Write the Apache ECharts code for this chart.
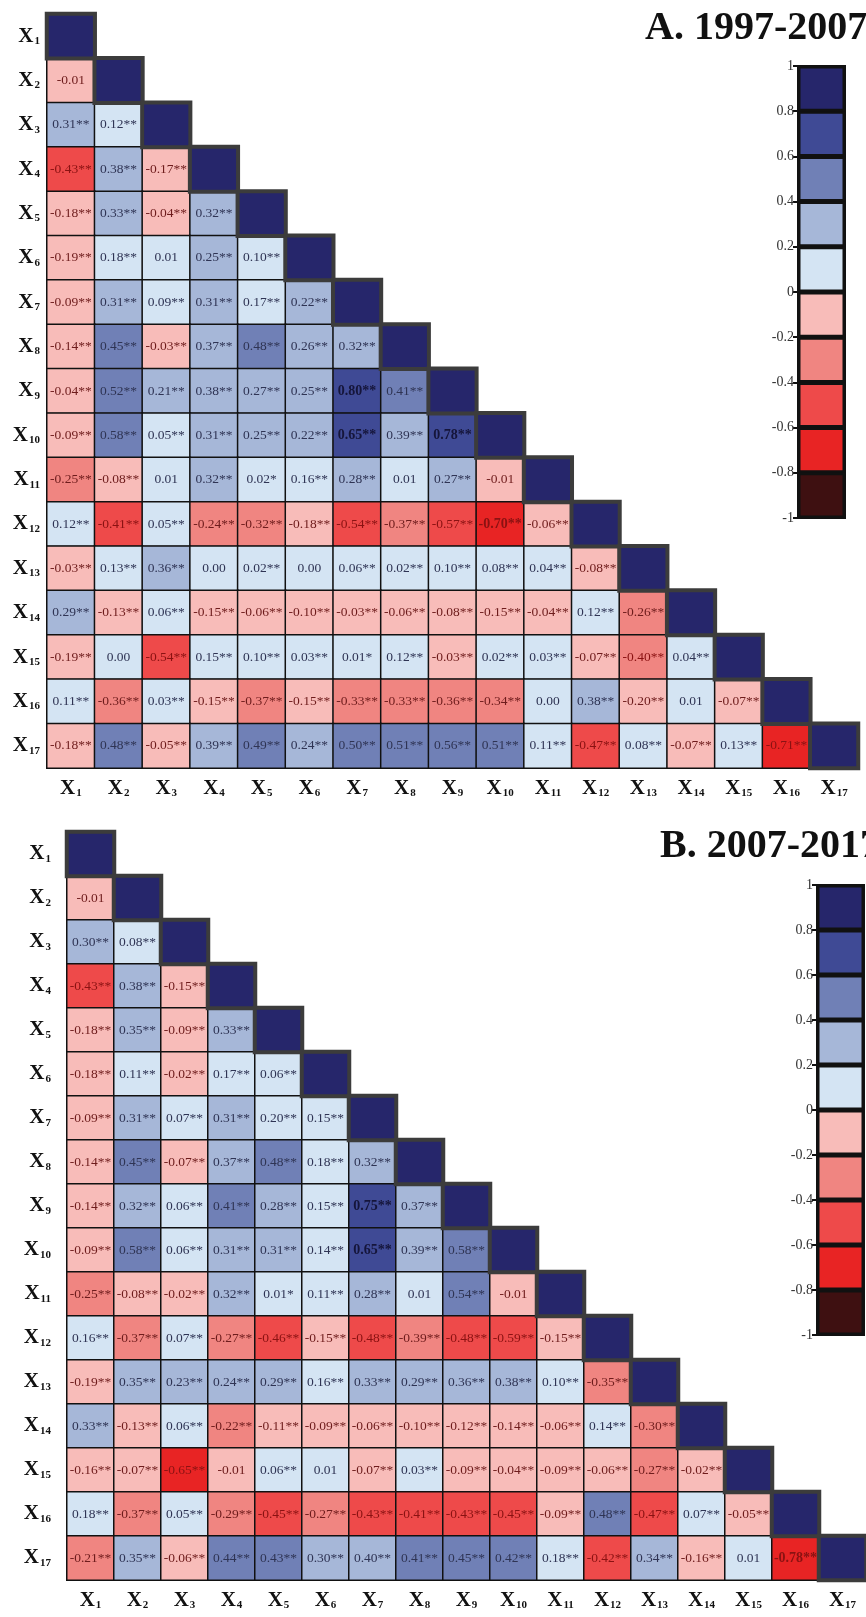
<!DOCTYPE html>
<html>
<head>
<meta charset="utf-8">
<script src="https://cdn.jsdelivr.net/npm/echarts@6/dist/echarts.min.js"></script>
<style>
    html, body {margin: 0; padding: 0; background: #fff;}
    #chart {width: 866px; height: 1617px;}
</style>
</head>
<body>
<div id="chart"></div>
<script type="text/javascript">
    var varNames = ['X1','X2','X3','X4','X5','X6','X7','X8','X9','X10','X11','X12','X13','X14','X15','X16','X17'];

    // lower triangle, row i = correlations of X(i+1) with X1..X(i), diagonal left out
    var rowsA = [
        [],
        ['-0.01'],
        ['0.31**','0.12**'],
        ['-0.43**','0.38**','-0.17**'],
        ['-0.18**','0.33**','-0.04**','0.32**'],
        ['-0.19**','0.18**','0.01','0.25**','0.10**'],
        ['-0.09**','0.31**','0.09**','0.31**','0.17**','0.22**'],
        ['-0.14**','0.45**','-0.03**','0.37**','0.48**','0.26**','0.32**'],
        ['-0.04**','0.52**','0.21**','0.38**','0.27**','0.25**','0.80**','0.41**'],
        ['-0.09**','0.58**','0.05**','0.31**','0.25**','0.22**','0.65**','0.39**','0.78**'],
        ['-0.25**','-0.08**','0.01','0.32**','0.02*','0.16**','0.28**','0.01','0.27**','-0.01'],
        ['0.12**','-0.41**','0.05**','-0.24**','-0.32**','-0.18**','-0.54**','-0.37**','-0.57**','-0.70**','-0.06**'],
        ['-0.03**','0.13**','0.36**','0.00','0.02**','0.00','0.06**','0.02**','0.10**','0.08**','0.04**','-0.08**'],
        ['0.29**','-0.13**','0.06**','-0.15**','-0.06**','-0.10**','-0.03**','-0.06**','-0.08**','-0.15**','-0.04**','0.12**','-0.26**'],
        ['-0.19**','0.00','-0.54**','0.15**','0.10**','0.03**','0.01*','0.12**','-0.03**','0.02**','0.03**','-0.07**','-0.40**','0.04**'],
        ['0.11**','-0.36**','0.03**','-0.15**','-0.37**','-0.15**','-0.33**','-0.33**','-0.36**','-0.34**','0.00','0.38**','-0.20**','0.01','-0.07**'],
        ['-0.18**','0.48**','-0.05**','0.39**','0.49**','0.24**','0.50**','0.51**','0.56**','0.51**','0.11**','-0.47**','0.08**','-0.07**','0.13**','-0.71**']
    ];
    var rowsB = [
        [],
        ['-0.01'],
        ['0.30**','0.08**'],
        ['-0.43**','0.38**','-0.15**'],
        ['-0.18**','0.35**','-0.09**','0.33**'],
        ['-0.18**','0.11**','-0.02**','0.17**','0.06**'],
        ['-0.09**','0.31**','0.07**','0.31**','0.20**','0.15**'],
        ['-0.14**','0.45**','-0.07**','0.37**','0.48**','0.18**','0.32**'],
        ['-0.14**','0.32**','0.06**','0.41**','0.28**','0.15**','0.75**','0.37**'],
        ['-0.09**','0.58**','0.06**','0.31**','0.31**','0.14**','0.65**','0.39**','0.58**'],
        ['-0.25**','-0.08**','-0.02**','0.32**','0.01*','0.11**','0.28**','0.01','0.54**','-0.01'],
        ['0.16**','-0.37**','0.07**','-0.27**','-0.46**','-0.15**','-0.48**','-0.39**','-0.48**','-0.59**','-0.15**'],
        ['-0.19**','0.35**','0.23**','0.24**','0.29**','0.16**','0.33**','0.29**','0.36**','0.38**','0.10**','-0.35**'],
        ['0.33**','-0.13**','0.06**','-0.22**','-0.11**','-0.09**','-0.06**','-0.10**','-0.12**','-0.14**','-0.06**','0.14**','-0.30**'],
        ['-0.16**','-0.07**','-0.65**','-0.01','0.06**','0.01','-0.07**','0.03**','-0.09**','-0.04**','-0.09**','-0.06**','-0.27**','-0.02**'],
        ['0.18**','-0.37**','0.05**','-0.29**','-0.45**','-0.27**','-0.43**','-0.41**','-0.43**','-0.45**','-0.09**','0.48**','-0.47**','0.07**','-0.05**'],
        ['-0.21**','0.35**','-0.06**','0.44**','0.43**','0.30**','0.40**','0.41**','0.45**','0.42**','0.18**','-0.42**','0.34**','-0.16**','0.01','-0.78**']
    ];
    // [row, col] of cells printed in bold
    var boldA = [[8,6],[9,6],[9,8],[11,9]];
    var boldB = [[8,6],[9,6],[16,15]];

    var legendTicks = [1, 0.8, 0.6, 0.4, 0.2, 0, -0.2, -0.4, -0.6, -0.8, -1];
    var binColors = ['#26266b','#3f4a95','#7080b6','#a6b7d8','#d4e4f3','#f8bcb9','#f08581','#ee4a4a','#e82424','#3e1011'];
    var titles = ['A. 1997-2007', 'B. 2007-2017'];

    var serif = '"Liberation Serif", "DejaVu Serif", serif';

    var panels = [
        {rows: rowsA, bold: boldA, grid: {left: 47, top: 14, width: 811, height: 754},
            leg: {left: 798, top: 66, width: 47, height: 452}, title: {left: 640, top: 4}, yMargin: 7},
        {rows: rowsB, bold: boldB, grid: {left: 67, top: 832, width: 801, height: 748},
            leg: {left: 817, top: 885, width: 47, height: 450}, title: {left: 655, top: 822}, yMargin: 16}
    ];

    // visual pieces from the legend ticks
    var pieces = [];
    for (var i = 0; i < binColors.length; i++) {
        var hi = legendTicks[i], lo = legendTicks[i + 1];
        if (lo > 0) pieces.push({gt: lo, lte: hi, color: binColors[i]});
        else if (lo === 0) pieces.push({gte: lo, lte: hi, color: binColors[i]});
        else pieces.push({gte: lo, lt: hi, color: binColors[i]});
    }

    function varLabel(v) {
        return '{x|X}{s|' + v.slice(1) + '}';
    }
    var varRich = {
        x: {fontFamily: serif, fontWeight: 'bold', fontSize: 21, color: '#111', lineHeight: 21, verticalAlign: 'top'},
        s: {fontFamily: serif, fontWeight: 'bold', fontSize: 11, color: '#111', lineHeight: 11, verticalAlign: 'bottom', padding: [16, 0, 0, 1]}
    };

    var grids = [], xAxes = [], yAxes = [], series = [], titleList = [], heatIdx = [];

    panels.forEach(function (p, k) {
        var leg = {left: p.leg.left, top: p.leg.top, width: p.leg.width, height: p.leg.height,
            show: true, backgroundColor: '#111', borderColor: '#111', borderWidth: 2};
        grids.push(p.grid, leg);
        xAxes.push({
            type: 'category', gridIndex: 2 * k, data: varNames, position: 'bottom',
            axisLine: {show: false}, axisTick: {show: false}, splitLine: {show: false},
            axisLabel: {formatter: varLabel, rich: varRich, margin: 10, interval: 0}
        });
        yAxes.push({
            type: 'category', gridIndex: 2 * k, data: varNames, inverse: true,
            axisLine: {show: false}, axisTick: {show: false}, splitLine: {show: false},
            axisLabel: {formatter: varLabel, rich: varRich, margin: p.yMargin, interval: 0}
        });
        xAxes.push({type: 'category', gridIndex: 2 * k + 1, data: ['c'], show: false});
        yAxes.push({
            type: 'value', gridIndex: 2 * k + 1, min: -1, max: 1, interval: 0.2,
            axisLine: {show: false}, splitLine: {show: false},
            axisTick: {show: true, length: 5, lineStyle: {color: '#111', width: 2}},
            axisLabel: {
                fontFamily: serif, fontSize: 14, color: '#333', margin: 4,
                formatter: function (v) { return String(Math.round(v * 10) / 10); }
            }
        });

        var cells = [];
        p.rows.forEach(function (row, r) {
            row.forEach(function (txt, c) {
                var v = parseFloat(txt);
                var isBold = p.bold.some(function (b) { return b[0] === r && b[1] === c; });
                cells.push({
                    value: [c, r, v], txt: txt,
                    label: {
                        fontWeight: isBold ? 'bold' : 'normal',
                        fontSize: isBold ? 14 : 13.5,
                        color: v < 0 ? (v <= -0.4 ? '#8a1212' : '#6e1c1c') : (isBold ? '#15153a' : '#2f3454')
                    }
                });
            });
        });
        heatIdx.push(series.length);
        series.push({
            type: 'heatmap', xAxisIndex: 2 * k, yAxisIndex: 2 * k, data: cells,
            itemStyle: {borderColor: '#111', borderWidth: 1.5},
            label: {show: true, fontFamily: serif, formatter: function (prm) { return prm.data.txt; }},
            emphasis: {disabled: true}
        });

        var diag = varNames.map(function (n, i) { return [i, i, 1]; });
        heatIdx.push(series.length);
        series.push({
            type: 'heatmap', xAxisIndex: 2 * k, yAxisIndex: 2 * k, data: diag,
            itemStyle: {borderColor: '#3c3c3c', borderWidth: 4},
            label: {show: false}, emphasis: {disabled: true}
        });

        // colour bar: stacked 0.2 blocks, positives upward from 0, negatives downward
        [4, 3, 2, 1, 0, 5, 6, 7, 8, 9].forEach(function (b) {
            series.push({
                type: 'bar', xAxisIndex: 2 * k + 1, yAxisIndex: 2 * k + 1, stack: 'leg' + k,
                barWidth: '100%', data: [b < 5 ? 0.2 : -0.2],
                itemStyle: {color: binColors[b], borderColor: '#111', borderWidth: 2.5},
                emphasis: {disabled: true}
            });
        });

        titleList.push({
            text: titles[k], left: p.title.left, top: p.title.top,
            textStyle: {fontFamily: serif, fontSize: 40, fontWeight: 'bold', color: '#111'}
        });
    });

    var myChart = echarts.init(document.getElementById('chart'));
    myChart.setOption({
        animation: false,
        title: titleList,
        grid: grids,
        xAxis: xAxes,
        yAxis: yAxes,
        visualMap: {type: 'piecewise', show: false, seriesIndex: heatIdx, pieces: pieces},
        series: series
    });
</script>
</body>
</html>
